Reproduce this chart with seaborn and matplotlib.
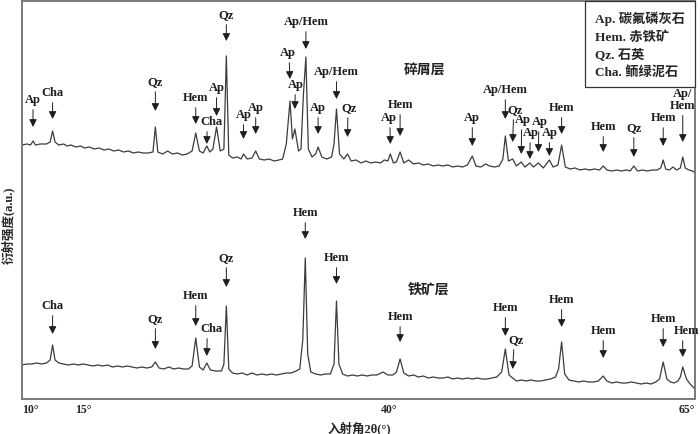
import matplotlib
matplotlib.use('Agg')
import matplotlib.pyplot as plt
import seaborn as sns
import pandas as pd
from matplotlib.lines import Line2D

# XRD traces (2theta in degrees, intensity in a.u.)
upper_2theta = [10.0, 10.4, 10.7, 10.9, 11.1, 11.5, 12.0, 12.3, 12.5, 12.7, 13.0, 13.4, 13.7, 14.0,
                14.4, 14.8, 15.1, 15.5, 15.9, 16.3, 16.7, 17.1, 17.5, 17.9, 18.3, 18.7, 19.1, 19.5,
                19.9, 20.3, 20.7, 20.9, 21.1, 21.5, 21.9, 22.3, 22.7, 23.1, 23.5, 23.9, 24.2, 24.5,
                24.8, 25.1, 25.35, 25.6, 25.9, 26.2, 26.5, 26.7, 26.9, 27.2, 27.6, 27.9, 28.1, 28.4,
                28.8, 29.1, 29.4, 29.8, 30.2, 30.6, 31.0, 31.3, 31.6, 31.9, 32.1, 32.3, 32.6, 32.8,
                33.0, 33.2, 33.4, 33.7, 34.0, 34.2, 34.5, 34.9, 35.3, 35.5, 35.7, 35.95, 36.3, 36.6,
                36.9, 37.3, 37.7, 38.1, 38.5, 38.9, 39.3, 39.6, 39.9, 40.1, 40.35, 40.6, 40.9, 41.2,
                41.6, 42.0, 42.4, 42.8, 43.2, 43.6, 44.0, 44.4, 44.8, 45.2, 45.6, 46.0, 46.4, 46.8,
                47.1, 47.5, 47.9, 48.2, 48.6, 49.0, 49.3, 49.5, 49.75, 50.1, 50.4, 50.8, 51.1, 51.5,
                51.8, 52.2, 52.6, 53.1, 53.4, 53.8, 54.1, 54.4, 54.8, 55.2, 55.6, 56.0, 56.4, 56.8,
                57.2, 57.5, 57.8, 58.2, 58.6, 59.0, 59.4, 59.7, 60.0, 60.3, 60.7, 61.1, 61.5, 61.9,
                62.2, 62.4, 62.6, 62.9, 63.2, 63.5, 63.8, 64.0, 64.2, 64.5, 64.8, 65.0]
upper_int = [34, 35, 34, 38, 34, 35, 35, 37, 48, 37, 34, 35, 33, 34,
             32, 33, 31, 32, 30, 31, 29, 30, 28, 29, 27, 28, 26, 27,
             26, 26, 27, 52, 27, 25, 28, 25, 26, 24, 25, 28, 46, 28,
             26, 33, 27, 30, 52, 28, 30, 123, 24, 21, 22, 20, 25, 20,
             21, 28, 20, 19, 20, 18, 19, 20, 35, 78, 40, 50, 28, 30,
             85, 122, 30, 22, 25, 32, 22, 20, 22, 35, 70, 25, 20, 25,
             18, 19, 16, 18, 16, 17, 16, 19, 18, 25, 16, 17, 27, 16,
             19, 15, 16, 14, 15, 13, 14, 13, 14, 12, 13, 12, 14, 23,
             13, 12, 15, 13, 12, 13, 20, 43, 18, 20, 13, 17, 12, 16,
             12, 16, 11, 19, 12, 14, 34, 12, 10, 11, 9, 10, 9, 10,
             9, 13, 9, 8, 9, 8, 9, 8, 13, 8, 9, 8, 9, 9,
             11, 19, 10, 9, 12, 9, 11, 22, 11, 9, 8, 6]

lower_2theta = [10.0, 10.4, 10.8, 11.2, 11.6, 12.0, 12.3, 12.5, 12.7, 13.0, 13.4, 13.8, 14.2, 14.6,
                15.0, 15.4, 15.8, 16.2, 16.6, 17.0, 17.4, 17.8, 18.2, 18.6, 19.0, 19.4, 19.8, 20.2,
                20.6, 20.9, 21.2, 21.6, 22.0, 22.4, 22.8, 23.2, 23.6, 23.9, 24.2, 24.5, 24.8, 25.1,
                25.4, 25.8, 26.3, 26.5, 26.7, 26.9, 27.2, 27.6, 28.0, 28.4, 28.8, 29.2, 29.6, 30.0,
                30.4, 30.8, 31.2, 31.6, 32.0, 32.4, 32.7, 32.95, 33.15, 33.35, 33.6, 34.0, 34.4, 34.8,
                35.2, 35.5, 35.7, 35.9, 36.2, 36.6, 37.0, 37.4, 37.8, 38.2, 38.6, 39.0, 39.5, 39.9,
                40.3, 40.6, 40.9, 41.2, 41.6, 42.0, 42.4, 42.8, 43.2, 43.6, 44.0, 44.4, 44.8, 45.2,
                45.6, 46.0, 46.4, 46.8, 47.2, 47.6, 48.0, 48.4, 48.8, 49.2, 49.5, 49.8, 50.1, 50.4,
                50.8, 51.2, 51.6, 52.0, 52.4, 52.8, 53.2, 53.6, 53.85, 54.1, 54.35, 54.7, 55.1, 55.5,
                55.9, 56.3, 56.7, 57.1, 57.5, 57.8, 58.2, 58.6, 59.0, 59.4, 59.8, 60.2, 60.6, 61.0,
                61.4, 61.8, 62.1, 62.4, 62.7, 63.0, 63.3, 63.6, 63.8, 64.0, 64.3, 64.6, 65.0]
lower_int = [34, 35, 35, 36, 35, 36, 39, 54, 39, 36, 35, 34, 35, 34,
             35, 34, 33, 34, 33, 34, 32, 33, 32, 33, 32, 31, 32, 31,
             32, 37, 31, 30, 32, 30, 31, 30, 30, 33, 61, 32, 29, 36,
             29, 28, 28, 35, 93, 30, 26, 25, 26, 24, 26, 24, 25, 24,
             25, 24, 25, 26, 26, 28, 30, 60, 141, 45, 27, 25, 24, 25,
             25, 35, 98, 35, 25, 23, 24, 23, 24, 23, 24, 24, 27, 24,
             24, 27, 40, 26, 23, 24, 22, 23, 21, 22, 21, 21, 22, 20,
             21, 20, 21, 20, 21, 20, 20, 21, 22, 27, 50, 24, 21, 18,
             19, 18, 19, 18, 18, 19, 20, 22, 30, 57, 25, 19, 18, 17,
             18, 17, 17, 18, 23, 18, 16, 17, 16, 16, 17, 16, 15, 16,
             15, 17, 20, 37, 20, 17, 16, 18, 22, 32, 20, 15, 10]

# peak labels: name, arrow position, label position, label height, arrow tip height
upper_labels = ['Ap', 'Cha', 'Qz', 'Hem', 'Cha', 'Ap', 'Qz', 'Ap', 'Ap', 'Ap', 'Ap', 'Ap/Hem',
                'Ap', 'Ap/Hem', 'Qz', 'Ap', 'Hem', 'Ap', 'Ap/Hem', 'Qz', 'Ap', 'Ap', 'Ap', 'Ap',
                'Hem', 'Hem', 'Qz', 'Hem', 'Ap/\nHem']
upper_arrow_x = [10.9, 12.5, 20.9, 24.2, 25.1, 25.9, 26.7, 28.1, 29.1, 31.9, 32.3, 33.2,
                 34.2, 35.7, 36.6, 40.1, 40.9, 46.8, 49.5, 50.1, 50.8, 51.5, 52.2, 53.1,
                 54.1, 57.5, 60.0, 62.4, 64.0]
upper_text_x = [10.9, 12.5, 20.9, 24.2, 25.5, 25.9, 26.7, 28.1, 29.1, 31.7, 32.4, 33.2,
                34.2, 35.7, 36.7, 40.0, 40.9, 46.8, 49.5, 50.3, 50.9, 51.6, 52.3, 53.1,
                54.1, 57.5, 60.0, 62.4, 64.0]
upper_text_y = [300, 307, 318, 302, 278, 312, 385, 285, 292, 347, 315, 378,
                292, 328, 292, 282, 295, 282, 310, 290, 280, 267, 278, 267,
                292, 273, 272, 282, 300]
upper_tip_y = [272, 280, 288, 275, 255, 283, 358, 260, 265, 320, 290, 350,
               265, 300, 262, 255, 263, 253, 280, 257, 245, 240, 247, 243,
               265, 247, 242, 253, 257]

lower_labels = ['Cha', 'Qz', 'Hem', 'Cha', 'Qz', 'Hem', 'Hem', 'Hem', 'Hem', 'Qz', 'Hem',
                'Hem', 'Hem', 'Hem']
lower_arrow_x = [12.5, 20.9, 24.2, 25.1, 26.7, 33.15, 35.7, 40.9, 49.5, 50.1, 54.1, 57.5, 62.4, 64.0]
lower_text_x = [12.5, 20.9, 24.2, 25.5, 26.7, 33.15, 35.7, 40.9, 49.5, 50.4, 54.1, 57.5, 62.4, 64.3]
lower_text_y = [94, 81, 104, 71, 142, 187, 142, 83, 92, 60, 100, 69, 81, 69]
lower_tip_y = [65, 50, 73, 43, 112, 160, 115, 57, 63, 30, 72, 41, 52, 42]

legend_labels = ['Ap. 碳氟磷灰石', 'Hem. 赤铁矿', 'Qz. 石英', 'Cha. 鲕绿泥石']
x_ticks = [10, 15, 40, 65]
x_tick_labels = ['10°', '15°', '40°', '65°']

upper_offset = 220

sns.set_style('white')
plt.rcParams['font.family'] = ['Liberation Serif', 'Noto Sans CJK SC', 'DejaVu Sans']

fig = plt.figure(figsize=(7, 4.35), dpi=100)
ax = fig.add_axes([22 / 700, 1 - 400 / 435, 673 / 700, 398 / 435])

df_up = pd.DataFrame({'tt': upper_2theta, 'I': [v + upper_offset for v in upper_int]})
df_lo = pd.DataFrame({'tt': lower_2theta, 'I': lower_int})
line_col = '#3c3c3c'
sns.lineplot(data=df_up, x='tt', y='I', ax=ax, color=line_col, lw=0.9, estimator=None)
sns.lineplot(data=df_lo, x='tt', y='I', ax=ax, color=line_col, lw=0.9, estimator=None)

arrow_kw = dict(arrowstyle='-|>,head_length=0.5,head_width=0.25', color='#1e1e1e', lw=0.7,
                shrinkA=1, shrinkB=0)


def label_peaks(labels, ax_x, tx, ty, tip):
    for lab, xa, xt, yt, yb in zip(labels, ax_x, tx, ty, tip):
        ax.annotate(lab, xy=(xa, yb), xytext=(xt, yt), ha='center', va='center',
                    fontsize=9, fontweight='bold', color='#1e1e1e', linespacing=0.95,
                    arrowprops=dict(arrow_kw, relpos=((xa - xt) / 2.0 + 0.5, 0)))


label_peaks(upper_labels, upper_arrow_x, upper_text_x, upper_text_y, upper_tip_y)
label_peaks(lower_labels, lower_arrow_x, lower_text_x, lower_text_y, lower_tip_y)

ax.text(42.9, 330, '碎屑层', fontsize=10, fontweight='bold', ha='center', va='center', color='#222')
ax.text(43.2, 110, '铁矿层', fontsize=10, fontweight='bold', ha='center', va='center', color='#222')

ax.set_xlim(10, 65)
ax.set_ylim(0, 398)
ax.set_xticks(x_ticks)
ax.set_xticklabels(x_tick_labels, fontsize=8.5, fontweight='bold')
ax.get_xticklabels()[-1].set_horizontalalignment('right')
ax.get_xticklabels()[0].set_horizontalalignment('left')
ax.set_yticks([])
ax.tick_params(axis='x', direction='in', length=5, width=0.8, color='#707070', pad=3)
ax.set_xlabel('')
ax.set_ylabel('')
for s in ax.spines.values():
    s.set_color('#7a7a7a')
    s.set_linewidth(1.4)

handles = [Line2D([], [], lw=0) for _ in legend_labels]
leg = ax.legend(handles, legend_labels, loc='upper right', bbox_to_anchor=(1.0, 1.0),
                handlelength=0, handletextpad=0, labelspacing=0.35,
                prop={'size': 9.5, 'weight': 'bold'},
                borderpad=0.75, borderaxespad=0, fancybox=False, framealpha=1)
leg.get_frame().set_edgecolor('#333333')
leg.get_frame().set_linewidth(0.9)

fig.text(359 / 700, 1 - 428 / 435, '入射角2θ(°)', fontsize=9, fontweight='bold',
         ha='center', va='center')
fig.text(8 / 700, 1 - 225 / 435, '衍射强度(a.u.)', fontsize=9, fontweight='bold',
         ha='center', va='center', rotation=90)

fig.savefig('out.png', dpi=100)
